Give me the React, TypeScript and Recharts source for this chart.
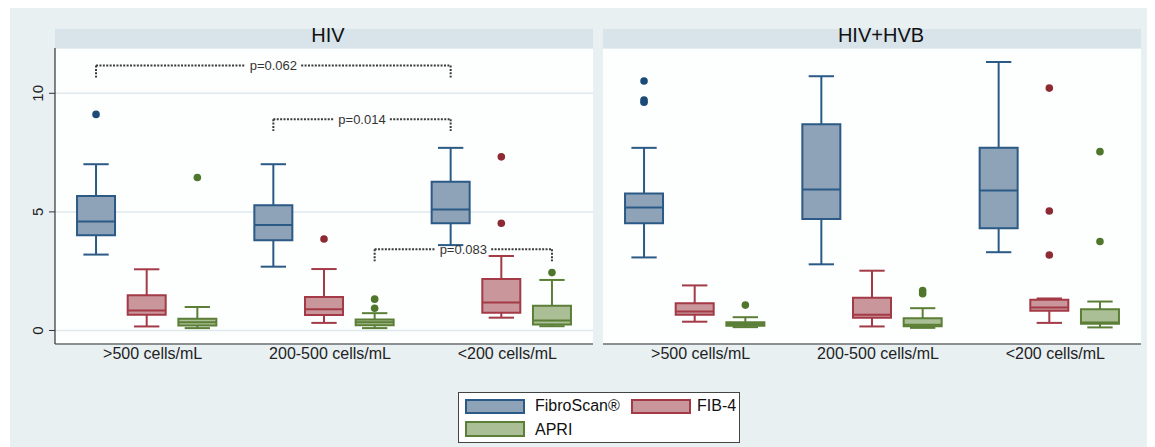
import React from 'react';
import {
  ComposedChart,
  XAxis,
  YAxis,
  CartesianGrid,
  Scatter,
  ReferenceArea,
  ReferenceLine,
  ReferenceDot,
} from 'recharts';

// categories
const groups = ['>500 cells/mL', '200-500 cells/mL', '<200 cells/mL'];
const seriesNames = ['FibroScan®', 'FIB-4', 'APRI'];

// box stats per group: [lower whisker, q1, median, q3, upper whisker]
const hivFibroScan = [[3.2, 4.01, 4.6, 5.67, 7.01], [2.69, 3.8, 4.45, 5.28, 7.01], [3.6, 4.52, 5.1, 6.27, 7.7]];
const hivFib4 = [[0.17, 0.66, 0.84, 1.49, 2.58], [0.32, 0.65, 0.89, 1.41, 2.59], [0.54, 0.75, 1.18, 2.17, 3.14]];
const hivApri = [[0.1, 0.21, 0.35, 0.49, 0.99], [0.1, 0.22, 0.35, 0.46, 0.73], [0.18, 0.25, 0.42, 1.04, 2.13]];

const hvbFibroScan = [[3.08, 4.52, 5.18, 5.78, 7.7], [2.79, 4.7, 5.94, 8.69, 10.72], [3.3, 4.31, 5.9, 7.7, 11.32]];
const hvbFib4 = [[0.37, 0.66, 0.8, 1.15, 1.9], [0.17, 0.54, 0.66, 1.38, 2.52], [0.32, 0.83, 0.97, 1.3, 1.35]];
const hvbApri = [[0.14, 0.2, 0.27, 0.35, 0.56], [0.11, 0.18, 0.24, 0.52, 0.94], [0.13, 0.28, 0.34, 0.9, 1.22]];

// outside values per group
const hivFibroScanOut = [[9.11], [], []];
const hivFib4Out = [[], [3.86], [7.32, 4.52]];
const hivApriOut = [[6.45], [1.32, 0.94], [2.44]];

const hvbFibroScanOut = [[10.52, 9.72, 9.62], [], []];
const hvbFib4Out = [[], [], [10.22, 5.04, 3.18]];
const hvbApriOut = [[1.07], [1.68, 1.55], [7.54, 3.75]];

// comparisons: from/to = [group, series]
const hivBrackets = [
  { from: [0, 0], to: [2, 0], y: 11.17, label: 'p=0.062' },
  { from: [1, 0], to: [2, 0], y: 8.91, label: 'p=0.014' },
  { from: [1, 2], to: [2, 2], y: 3.42, label: 'p=0.083' },
];

const yTicks = [0, 5, 10];

const palette = [
  { fill: '#8ea3b8', stroke: '#2a5a85', dot: '#1b4a78' },
  { fill: '#c9969c', stroke: '#a33a46', dot: '#8e2a34' },
  { fill: '#aabf95', stroke: '#5c7f37', dot: '#4f762b' },
];

const FONT = '"Liberation Sans", Arial, sans-serif';
const BG = '#e8f0f2';
const STRIP = '#d8e4ea';

const slot = (g: number, s: number) => 1 + g * 3.5 + s;

const YTick = (props: any) => {
  const { x, y, payload } = props;
  return (
    <text x={x} y={y} transform={`rotate(-90, ${x}, ${y})`} textAnchor="middle" fontSize={15} fill="#222" fontFamily={FONT}>
      {payload.value}
    </text>
  );
};

function BoxPanel({ stats, outliers, brackets, withYAxis, width }: any) {
  const areas: any[] = [];
  const lines: any[] = [];
  stats.forEach((seriesStats: number[][], s: number) => {
    const c = palette[s];
    seriesStats.forEach(([lo, q1, med, q3, hi], g) => {
      const x = slot(g, s);
      const k = `${s}-${g}`;
      areas.push(
        <ReferenceArea key={'box' + k} x1={x - 0.375} x2={x + 0.375} y1={q1} y2={q3}
          fill={c.fill} fillOpacity={1} stroke={c.stroke} strokeWidth={2} />
      );
      lines.push(
        <ReferenceLine key={'wl' + k} segment={[{ x, y: lo }, { x, y: q1 }]} stroke={c.stroke} strokeWidth={2} />,
        <ReferenceLine key={'wh' + k} segment={[{ x, y: q3 }, { x, y: hi }]} stroke={c.stroke} strokeWidth={2} />,
        <ReferenceLine key={'cl' + k} segment={[{ x: x - 0.25, y: lo }, { x: x + 0.25, y: lo }]} stroke={c.stroke} strokeWidth={2} />,
        <ReferenceLine key={'ch' + k} segment={[{ x: x - 0.25, y: hi }, { x: x + 0.25, y: hi }]} stroke={c.stroke} strokeWidth={2} />,
        <ReferenceLine key={'md' + k} segment={[{ x: x - 0.375, y: med }, { x: x + 0.375, y: med }]} stroke={c.stroke} strokeWidth={2} />
      );
    });
  });

  const bracketMarks: any[] = [];
  brackets.forEach((b: any, i: number) => {
    const x1 = slot(b.from[0], b.from[1]);
    const x2 = slot(b.to[0], b.to[1]);
    const mid = (x1 + x2) / 2;
    const gap = 0.55;
    const drop = 0.5;
    const st = { stroke: '#3a3a3a', strokeWidth: 2, strokeDasharray: '2 1.4' };
    bracketMarks.push(
      <ReferenceLine key={'b1' + i} segment={[{ x: x1, y: b.y }, { x: mid - gap, y: b.y }]} {...st} />,
      <ReferenceLine key={'b2' + i} segment={[{ x: mid + gap, y: b.y }, { x: x2, y: b.y }]} {...st} />,
      <ReferenceLine key={'b3' + i} segment={[{ x: x1, y: b.y }, { x: x1, y: b.y - drop }]} {...st} />,
      <ReferenceLine key={'b4' + i} segment={[{ x: x2, y: b.y }, { x: x2, y: b.y - drop }]} {...st} />,
      <ReferenceDot key={'bl' + i} x={mid} y={b.y} r={0} fill="none" stroke="none"
        label={{ value: b.label, position: 'center', fontSize: 13, fill: '#333', fontFamily: FONT }} />
    );
  });

  return (
    <ComposedChart width={width} height={326} margin={{ top: 0, right: 0, bottom: 0, left: 0 }} style={{ fontFamily: FONT }}>
      <CartesianGrid vertical={false} fill="#fdfefe" stroke="#dfe9ee" strokeWidth={1.5} />
      <XAxis
        dataKey="x"
        type="number"
        domain={[0.19, 10.81]}
        ticks={[2, 5.5, 9]}
        interval={0}
        tickFormatter={(v) => groups[[2, 5.5, 9].indexOf(v)]}
        tick={{ fontSize: 16, fill: '#222', dx: 6 }}
        tickLine={false}
        tickSize={0}
        tickMargin={4}
        height={30}
        axisLine={{ stroke: '#333', strokeWidth: 1.2 }}
      />
      {withYAxis ? (
        <YAxis
          dataKey="y"
          type="number"
          domain={[-0.57, 11.91]}
          ticks={yTicks}
          width={45}
          tick={<YTick />}
          tickSize={6}
          tickMargin={6}
          axisLine={{ stroke: '#333', strokeWidth: 1.2 }}
          tickLine={{ stroke: '#333' }}
        />
      ) : (
        <YAxis dataKey="y" type="number" domain={[-0.57, 11.91]} ticks={yTicks} width={0} tick={false} axisLine={false} tickLine={false} />
      )}
      {areas}
      {lines}
      {bracketMarks}
      {outliers.map((vals: number[][], s: number) => (
        <Scatter
          key={'out' + s}
          name={seriesNames[s]}
          data={vals.flatMap((list, g) => list.map((v) => ({ x: slot(g, s), y: v })))}
          isAnimationActive={false}
          shape={(p: any) => <circle cx={p.cx} cy={p.cy} r={3.8} fill={palette[s].dot} />}
        />
      ))}
    </ComposedChart>
  );
}

const titleStyle: React.CSSProperties = {
  position: 'absolute',
  top: 21,
  width: 538,
  height: 19,
  background: STRIP,
  textAlign: 'center',
  fontSize: 20,
  lineHeight: '19px',
  color: '#111',
};

export default function App() {
  return (
    <div style={{ position: 'relative', marginLeft: 2, width: 1145, height: 439, background: BG, fontFamily: FONT }}>
      <div style={{ ...titleStyle, left: 45 }}>
        <span style={{ position: 'relative', top: -3, left: 4 }}>HIV</span>
      </div>
      <div style={{ ...titleStyle, left: 593 }}>
        <span style={{ position: 'relative', top: -3, left: 9 }}>HIV+HVB</span>
      </div>

      <div style={{ position: 'absolute', left: 0, top: 40 }}>
        <BoxPanel
          stats={[hivFibroScan, hivFib4, hivApri]}
          outliers={[hivFibroScanOut, hivFib4Out, hivApriOut]}
          brackets={hivBrackets}
          withYAxis
          width={583}
        />
      </div>
      <div style={{ position: 'absolute', left: 593, top: 40 }}>
        <BoxPanel
          stats={[hvbFibroScan, hvbFib4, hvbApri]}
          outliers={[hvbFibroScanOut, hvbFib4Out, hvbApriOut]}
          brackets={[]}
          withYAxis={false}
          width={538}
        />
      </div>

      {/* Legend */}
      <div style={{ position: 'absolute', left: 448, top: 384, width: 282, height: 51, boxSizing: 'border-box', border: '1px solid #444', background: '#fff', fontSize: 16, color: '#111' }}>
        {[
          { s: 0, left: 6, top: 6, h: 15, tl: 76, tt: 5 },
          { s: 1, left: 172, top: 6, h: 15, tl: 238, tt: 5 },
          { s: 2, left: 6, top: 28, h: 16, tl: 76, tt: 29 },
        ].map((it) => (
          <React.Fragment key={it.s}>
            <div style={{ position: 'absolute', left: it.left, top: it.top, width: 60, height: it.h, boxSizing: 'border-box', background: palette[it.s].fill, border: `2px solid ${palette[it.s].stroke}` }} />
            <div style={{ position: 'absolute', left: it.tl, top: it.tt, lineHeight: '16px', whiteSpace: 'nowrap' }}>{seriesNames[it.s]}</div>
          </React.Fragment>
        ))}
      </div>
    </div>
  );
}
